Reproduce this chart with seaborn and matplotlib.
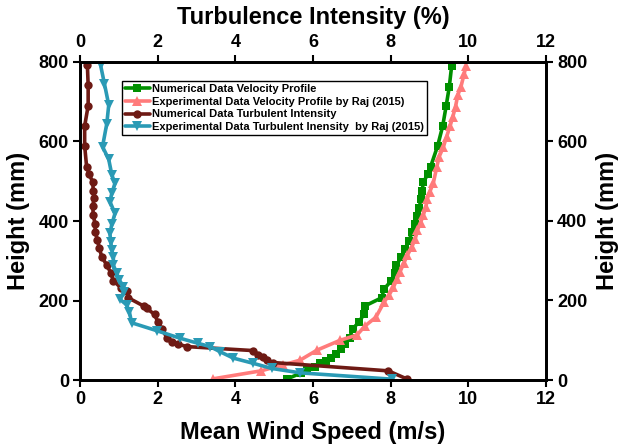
import numpy as np
import pandas as pd
import matplotlib
matplotlib.use("Agg")
import matplotlib.pyplot as plt
import seaborn as sns

# ---- data ----
num_vel_height = [790, 738, 690, 639, 589, 537, 517, 497, 476, 455, 433, 413, 392, 372, 350,
                  329, 309, 289, 268, 250, 229, 207, 186, 165, 147, 128, 106, 90, 77, 65, 55,
                  49, 42, 33, 25, 17, 3]
num_vel_speed = [9.57, 9.51, 9.43, 9.34, 9.21, 9.03, 8.95, 8.84, 8.81, 8.77, 8.74, 8.69, 8.62,
                 8.55, 8.47, 8.37, 8.27, 8.15, 8.12, 8.02, 7.83, 7.77, 7.33, 7.31, 7.19, 7.02,
                 6.94, 6.83, 6.71, 6.59, 6.47, 6.34, 6.18, 6.04, 5.84, 5.68, 5.34]

exp_vel_height = [790, 769, 738, 717, 688, 662, 639, 612, 587, 562, 537, 496, 474, 455, 436,
                  415, 396, 377, 354, 334, 314, 294, 272, 253, 233, 214, 196, 158, 136, 113,
                  100, 75, 50, 38, 23, 3]
exp_vel_speed = [9.94, 9.89, 9.81, 9.73, 9.67, 9.60, 9.53, 9.44, 9.36, 9.25, 9.19, 9.10, 9.01,
                 8.94, 8.91, 8.84, 8.77, 8.69, 8.63, 8.54, 8.43, 8.34, 8.24, 8.16, 8.07, 7.96,
                 7.83, 7.62, 7.34, 7.13, 6.70, 6.10, 5.67, 5.23, 4.66, 3.43]

num_ti_height = [792, 742, 690, 639, 589, 537, 517, 497, 476, 458, 437, 415, 392, 373, 352,
                 331, 310, 289, 270, 250, 232, 224, 207, 186, 180, 165, 147, 128, 106, 96,
                 90, 84, 74, 64, 57, 50, 44, 23, 3]
num_ti_value = [0.19, 0.21, 0.21, 0.12, 0.12, 0.17, 0.24, 0.33, 0.34, 0.36, 0.33, 0.34, 0.39,
                0.39, 0.45, 0.50, 0.56, 0.69, 0.79, 0.86, 1.05, 1.20, 1.24, 1.64, 1.72, 1.92,
                2.00, 2.10, 2.25, 2.38, 2.53, 2.76, 4.46, 4.59, 4.71, 4.82, 4.96, 7.94, 8.41]

exp_ti_height = [792, 745, 692, 645, 587, 555, 516, 495, 470, 449, 419, 392, 369, 348, 327,
                 310, 289, 270, 252, 235, 222, 203, 189, 172, 144, 124, 105, 92, 84, 71, 55,
                 42, 29, 18, 2]
exp_ti_value = [0.53, 0.63, 0.74, 0.69, 0.58, 0.74, 0.82, 0.90, 0.82, 0.77, 0.90, 0.82, 0.77,
                0.79, 0.82, 0.86, 0.86, 0.94, 1.01, 1.12, 1.13, 1.03, 1.20, 1.27, 1.33, 1.98,
                2.58, 3.05, 3.35, 3.61, 3.95, 4.46, 4.94, 5.67, 8.04]

labels = ["Numerical Data Velocity Profile",
          "Experimental Data Velocity Profile by Raj (2015)",
          "Numerical Data Turbulent Intensity",
          "Experimental Data Turbulent Inensity  by Raj (2015)"]
x_ticks = [0, 2, 4, 6, 8, 10, 12]
y_ticks = [0, 200, 400, 600, 800]

# ---- style ----
sns.set_style("ticks")
plt.rcParams['font.family'] = ['Liberation Sans', 'DejaVu Sans']
plt.rcParams['font.weight'] = 'bold'
for k in ('text.color', 'axes.labelcolor', 'xtick.color', 'ytick.color'):
    plt.rcParams[k] = 'black'

fig = plt.figure(figsize=(6.18, 4.48), dpi=100)
ax = fig.add_axes([80/618, 1-380/448, 466/618, 318/448])

series = [
    (num_vel_speed, num_vel_height, "#009000", "s", 5.5, labels[0]),
    (exp_vel_speed, exp_vel_height, "#ff7b7b", "^", 6.5, labels[1]),
    (num_ti_value, num_ti_height, "#6e1a14", "o", 6, labels[2]),
    (exp_ti_value, exp_ti_height, "#2a9ab5", "v", 6.5, labels[3]),
]
for xs, ys, col, mk, ms, lab in series:
    df = pd.DataFrame({"x": xs, "y": ys})
    sns.lineplot(data=df, x="x", y="y", sort=False, estimator=None, ax=ax,
                 color=col, marker=mk, markersize=ms, markeredgewidth=0,
                 linewidth=2.6, label=lab)

lab_kw = dict(fontsize=17, fontweight='bold', color='black')
ax.set_xlim(0, 12)
ax.set_ylim(0, 800)
ax.set_xticks(x_ticks)
ax.set_yticks(y_ticks)
ax.set_xlabel("Mean Wind Speed (m/s)", labelpad=9, **lab_kw)
ax.set_ylabel("Height (mm)", labelpad=6, **lab_kw)

axt = ax.twiny()
axt.set_xlim(0, 12)
axt.set_xticks(x_ticks)
axt.set_xlabel("Turbulence Intensity (%)", labelpad=7, **lab_kw)
axr = ax.twinx()
axr.set_ylim(0, 800)
axr.set_yticks(y_ticks)
axr.set_ylabel("Height (mm)", labelpad=6, **lab_kw)

for a in (ax, axt, axr):
    a.tick_params(direction='out', length=5, width=1.5, labelsize=13, pad=3,
                  colors='black')
    for lab in a.get_xticklabels() + a.get_yticklabels():
        lab.set_fontweight('bold')
    for s in a.spines.values():
        s.set_linewidth(1.8)
        s.set_color('black')

leg = ax.legend(loc='upper left', bbox_to_anchor=(0.09, 0.94), fontsize=8,
                frameon=True, fancybox=False, framealpha=1, edgecolor='black',
                handlelength=2.3, handletextpad=0.2, borderpad=0.25, labelspacing=0.25,
                borderaxespad=0)
leg.get_frame().set_linewidth(1.0)
for t in leg.get_texts():
    t.set_fontweight('bold')
    t.set_color('black')

fig.savefig("out.png", dpi=100)
